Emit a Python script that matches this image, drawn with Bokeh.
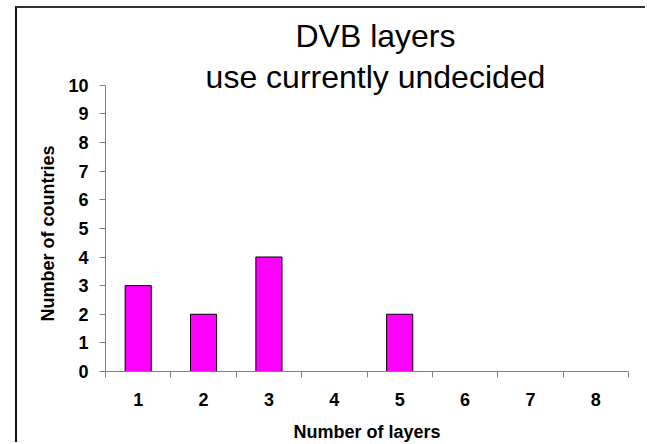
from bokeh.plotting import figure
from bokeh.models import FixedTicker, Label, Range1d, Title
from bokeh.embed import file_html
from bokeh.resources import INLINE

# Chart data
layers = ["1", "2", "3", "4", "5", "6", "7", "8"]
countries = [3, 2, 4, 0, 2, 0, 0, 0]
y_ticks = [0, 1, 2, 3, 4, 5, 6, 7, 8, 9, 10]
title_lines = ["DVB layers", "use currently undecided"]
x_title = "Number of layers"
y_title = "Number of countries"

positions = [i + 1 for i in range(len(layers))]
boundaries = [x - 0.5 for x in positions] + [positions[-1] + 0.5]
shown = [(x, v) for x, v in zip(positions, countries) if v > 0]

FONT = "Liberation Sans"
AXIS_GREY = "#808080"

# canvas geometry (px)
W, H = 630, 436
BORDER_L, BORDER_R, BORDER_B = 88, 19, 72
AXIS_PX = 287  # height of the 0..10 value scale
# the frame runs up to the top of the canvas so the title can sit inside it
y_top = y_ticks[-1] * (H - BORDER_B) / AXIS_PX

p = figure(
    width=W, height=H,
    output_backend="svg", toolbar_location=None,
    x_range=Range1d(boundaries[0], boundaries[-1]),
    y_range=Range1d(y_ticks[0], y_top),
    min_border_left=BORDER_L, min_border_right=BORDER_R,
    min_border_top=0, min_border_bottom=BORDER_B,
    background_fill_color="white", border_fill_color="white",
)
p.margin = (6, 0, 0, 15)
p.styles = {"border-left": "2px solid #111", "border-top": "2px solid #333"}
p.outline_line_color = None
p.xgrid.visible = False
p.ygrid.visible = False

p.vbar(
    x=[s[0] for s in shown], top=[s[1] for s in shown], bottom=0, width=0.4,
    fill_color="#FF00FF", line_color="black", line_width=1,
)

# x axis: labels centred under the bars, tick marks between categories
xa = p.xaxis[0]
xa.ticker = FixedTicker(ticks=positions, minor_ticks=boundaries)
xa.major_label_overrides = {x: lab for x, lab in zip(positions, layers)}
xa.major_tick_line_color = None
xa.minor_tick_in = 0
xa.minor_tick_out = 6
xa.minor_tick_line_color = AXIS_GREY
xa.axis_line_color = AXIS_GREY
xa.major_label_standoff = 15
xa.axis_label = x_title
xa.axis_label_standoff = 13
xa.axis_label_text_font = FONT
xa.axis_label_text_font_style = "bold"
xa.axis_label_text_font_size = "18px"
xa.axis_label_text_color = "black"

ya = p.yaxis[0]
ya.ticker = FixedTicker(ticks=y_ticks)
ya.bounds = (y_ticks[0], y_ticks[-1])
ya.major_tick_in = 0
ya.major_tick_out = 6
ya.major_tick_line_color = AXIS_GREY
ya.minor_tick_line_color = None
ya.axis_line_color = AXIS_GREY
ya.major_label_standoff = 11

for ax in (xa, ya):
    ax.major_label_text_font = FONT
    ax.major_label_text_font_style = "bold"
    ax.major_label_text_font_size = "18px"
    ax.major_label_text_color = "black"

# y axis title, centred on the 0..10 scale rather than the whole frame
p.add_layout(Title(
    text=y_title, align="left", offset=50, standoff=16,
    text_font=FONT, text_font_style="bold", text_font_size="18px",
    text_color="black",
), "left")

# two-line chart title, placed relative to the plot frame
for i, line in enumerate(title_lines):
    p.add_layout(Label(
        x=270, y=336 - 41 * i, x_units="screen", y_units="screen",
        text=line, text_align="center", text_baseline="alphabetic",
        text_font=FONT, text_font_size="32px", text_color="black",
    ))

open("out.html", "w").write(file_html(p, INLINE))
